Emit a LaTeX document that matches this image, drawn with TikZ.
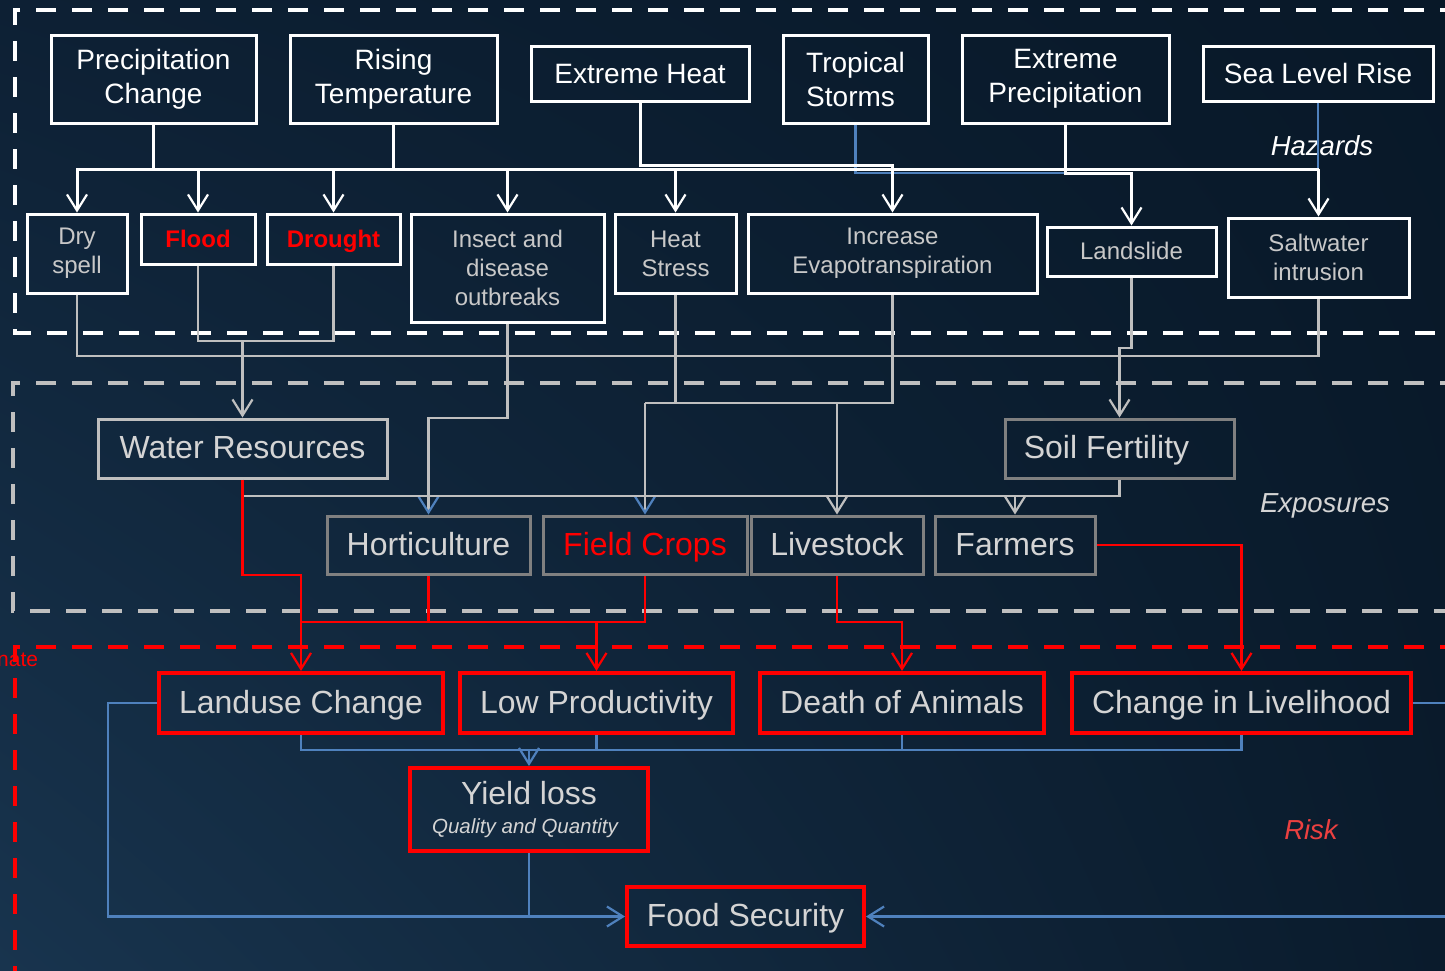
\documentclass[tikz,border=0pt]{standalone}
\usepackage{fontspec}
\setmainfont{Liberation Sans}
\usetikzlibrary{arrows.meta,shadings}
\definecolor{bgUL}{RGB}{13,32,52}
\definecolor{bgLL}{RGB}{24,52,78}
\definecolor{bgUR}{RGB}{8,24,40}
\definecolor{bgLR}{RGB}{10,27,44}
\definecolor{lgrey}{RGB}{200,200,200}
\definecolor{txgrey}{RGB}{212,212,212}
\definecolor{lineg}{RGB}{191,191,191}
\definecolor{boxg}{RGB}{128,128,128}
\definecolor{blueC}{RGB}{79,129,189}
\definecolor{riskC}{RGB}{235,64,64}
\newcommand\fHz{\fontsize{28}{34}\selectfont}
\newcommand\fEff{\fontsize{24}{29}\selectfont}
\newcommand\fExp{\fontsize{32}{36}\selectfont}
\newcommand\fLab{\fontsize{27.5}{30}\selectfont\itshape}
\tikzset{
  hz/.style={draw=white, line width=3pt, text=white, font=\fHz, align=center, inner sep=0pt},
  hzone/.style={hz, text height=20pt, text depth=1pt},
  eff/.style={draw=white, line width=3pt, text=lgrey, font=\fEff, align=center, inner sep=0pt},
  effone/.style={eff, text height=17pt, text depth=1pt},
  effred/.style={effone, text=red, font=\fEff\bfseries},
  expo/.style={draw=boxg, line width=3pt, text=txgrey, font=\fExp, align=center, inner sep=0pt, text height=22pt, text depth=2pt},
  risk/.style={draw=red, line width=4pt, text=txgrey, font=\fExp, align=center, inner sep=0pt},
  riskone/.style={risk, text height=22pt, text depth=2pt},
  lab/.style={font=\fLab, inner sep=0pt},
  wl/.style={draw=white, line width=3pt},
  gl/.style={draw=lineg, line width=2.5pt},
  rl/.style={draw=red, line width=2.5pt},
  bl/.style={draw=blueC, line width=2.5pt},
  arr/.style={-{Straight Barb[length=16pt,width=20pt,line width=2.2pt]}},
  arrB/.style={-{Straight Barb[length=16pt,width=20pt,line width=2.2pt,color=blueC]}},
  frame/.style={line width=4pt, dash pattern=on 20pt off 16pt}
}
\begin{document}
\begin{tikzpicture}[x=1pt,y=-1pt]
% background
\useasboundingbox (0,0) rectangle (1445,970);
\shade[upper left=bgUL, lower left=bgLL, upper right=bgUR, lower right=bgLR] (0,0) rectangle (1445,970);

% dashed frames
\draw[frame, white] (1460,10) -- (15,10) -- (15,333) -- (1460,333);
\draw[frame, lineg] (1460,383) -- (13,383) -- (13,611) -- (1460,611);
\draw[frame, red] (1460,647) -- (15,647) -- (15,985);

% Hazards
\node[hz, minimum width=205pt, minimum height=88pt] (pc) at (153.5,79) {Precipitation\\Change};
\node[hz, minimum width=207pt, minimum height=88pt] (rt) at (393.5,79) {Rising\\Temperature};
\node[hzone, minimum width=218pt, minimum height=55pt] (eh) at (640,73.5) {Extreme Heat};
\node[hz, minimum width=145pt, minimum height=88pt, align=left] (ts) at (855.5,79) {Tropical\\Storms};
\node[hz, minimum width=207pt, minimum height=88pt] (ep) at (1065.5,79) {Extreme\\Precipitation};
\node[hzone, minimum width=230pt, minimum height=55pt] (slr) at (1318,73.5) {Sea Level Rise};

% Hazard effects
\node[eff, minimum width=100pt, minimum height=79pt] (ds) at (77,253.5) {Dry\\spell};
\node[effred, minimum width=114pt, minimum height=50pt] (fl) at (198,239) {Flood};
\node[effred, minimum width=133pt, minimum height=50pt] (dr) at (333.5,239) {Drought};
\node[eff, minimum width=193pt, minimum height=108pt] (id) at (507.5,268) {Insect and\\disease\\outbreaks};
\node[eff, minimum width=121pt, minimum height=79pt] (hs) at (675.5,253.5) {Heat\\Stress};
\node[eff, minimum width=289pt, minimum height=79pt] (ie) at (892.5,253.5) {Increase\\Evapotranspiration};
\node[effone, minimum width=169pt, minimum height=49pt] (ls) at (1131.5,251.5) {Landslide};
\node[eff, minimum width=181pt, minimum height=79pt] (sw) at (1318.5,257.5) {Saltwater\\intrusion};

% Exposures
\node[expo, draw=lineg, minimum width=289pt, minimum height=59pt] (wr) at (242.5,448.5) {Water Resources};
\node[expo, minimum width=229pt, minimum height=59pt] (sf) at (1119.5,448.5) {Soil Fertility\hspace*{26pt}};
\node[expo, minimum width=203pt, minimum height=58pt] (ho) at (428.5,545) {Horticulture};
\node[expo, minimum width=204pt, minimum height=58pt, text=red] (fc) at (645,545) {Field Crops};
\node[expo, minimum width=172pt, minimum height=58pt] (lv) at (837,545) {Livestock};
\node[expo, minimum width=160pt, minimum height=58pt] (fa) at (1015,545) {Farmers};

% Risks
\node[riskone, minimum width=284pt, minimum height=60pt] (lc) at (301,703) {Landuse Change};
\node[riskone, minimum width=273pt, minimum height=60pt] (lp) at (596.5,703) {Low Productivity};
\node[riskone, minimum width=284pt, minimum height=60pt] (da) at (902,703) {Death of Animals};
\node[riskone, minimum width=339pt, minimum height=60pt] (cl) at (1241.5,703) {Change in Livelihood};
\node[risk, minimum width=238pt, minimum height=83pt] (yl) at (529,809.5) {Yield loss\\[-7pt]{\fontsize{20.5}{24}\selectfont\itshape Quality and Quantity\hspace*{8pt}}};
\node[riskone, minimum width=237pt, minimum height=59pt] (fs) at (745.5,916.5) {Food Security};

% Labels
\node[lab, text=white] (hzl) at (1322,146) {Hazards};
\node[lab, text=txgrey] (exl) at (1325,506) {Exposures};
\node[lab, text=riskC] (rkl) at (1311,830) {Risk};
\node[font=\fontsize{21}{24}\selectfont, text=red, anchor=west, inner sep=0pt] (clim) at (-3,660) {nate};

% level coordinates
\coordinate (yA) at (0,169);
\coordinate (yA1) at (0,165);
\coordinate (yA2) at (0,173);
\coordinate (yB) at (0,356);
\coordinate (yB1) at (0,341);
\coordinate (yB2) at (0,348);
\coordinate (yC) at (0,418);
\coordinate (yC2) at (0,403);
\coordinate (yD) at (0,496);
\coordinate (yE) at (0,575);
\coordinate (yF) at (0,622);
\coordinate (yG) at (0,750);
\coordinate (rX) at (1460,0);

% hazard connectors
\draw[bl] (ts.south) |- (ep.south |- yA2);
\draw[bl] (slr.south) -- (slr.south |- yA);
\draw[wl] (pc.south) -- (pc.south |- yA);
\draw[wl, arr] (pc.south |- yA) -| (ds.north);
\draw[wl] (pc.south |- yA) -- (sw.north |- yA);
\draw[wl] (rt.south) -- (rt.south |- yA);
\draw[wl, arr] (fl.north |- yA) -- (fl.north);
\draw[wl, arr] (dr.north |- yA) -- (dr.north);
\draw[wl, arr] (id.north |- yA) -- (id.north);
\draw[wl, arr] (hs.north |- yA) -- (hs.north);
\draw[wl, arr] (sw.north |- yA) -- (sw.north);
\draw[wl, arr] (eh.south) |- (ie.north |- yA1) -- (ie.north);
\draw[wl, arr] (ep.south) |- (ls.north |- yA2) -- (ls.north);

% effects to exposures
\draw[gl] (ds.south) |- (sw.south |- yB) -- (sw.south);
\draw[gl] (fl.south) |- (dr.south |- yB1) -- (dr.south);
\draw[gl, arr] (wr.north |- yB1) -- (wr.north);
\draw[gl, arrB] (id.south) |- (ho.north |- yC) -- (ho.north);
\draw[gl] (hs.south) -- (hs.south |- yC2);
\draw[gl] (fc.north |- yC2) -| (ie.south);
\draw[gl, arrB] (fc.north |- yC2) -- (fc.north);
\draw[gl, arr] (lv.north |- yC2) -- (lv.north);
\draw[gl, arr] (ls.south) |- (sf.north |- yB2) -- (sf.north);
\draw[gl] (sf.south) |- (wr.south |- yD);
\draw[gl, arr] (fa.north |- yD) -- (fa.north);

% exposures to risks
\draw[rl, arr] (wr.south) |- (lc.north |- yE) -- (lc.north);
\draw[rl] (ho.south) -- (ho.south |- yF);
\draw[rl] (lc.north |- yF) -| (fc.south);
\draw[rl, arr] (lp.north |- yF) -- (lp.north);
\draw[rl, arr] (lv.south) |- (da.north |- yF) -- (da.north);
\draw[rl, arr] (fa.east) -| (cl.north);

% risks
\draw[bl] (lc.south) |- (cl.south |- yG) -- (cl.south);
\draw[bl] (lp.south) -- (lp.south |- yG);
\draw[bl] (da.south) -- (da.south |- yG);
\draw[bl, arr] (yl.north |- yG) -- (yl.north);
\draw[bl] (yl.south) -- (yl.south |- fs.west);
\draw[bl, arr] (lc.west) -- ++(-49,0) |- (fs.west);
\draw[bl, arr] (fs.east -| rX) -- (fs.east);
\draw[bl] (cl.east) -- (cl.east -| rX);
\end{tikzpicture}
\end{document}
